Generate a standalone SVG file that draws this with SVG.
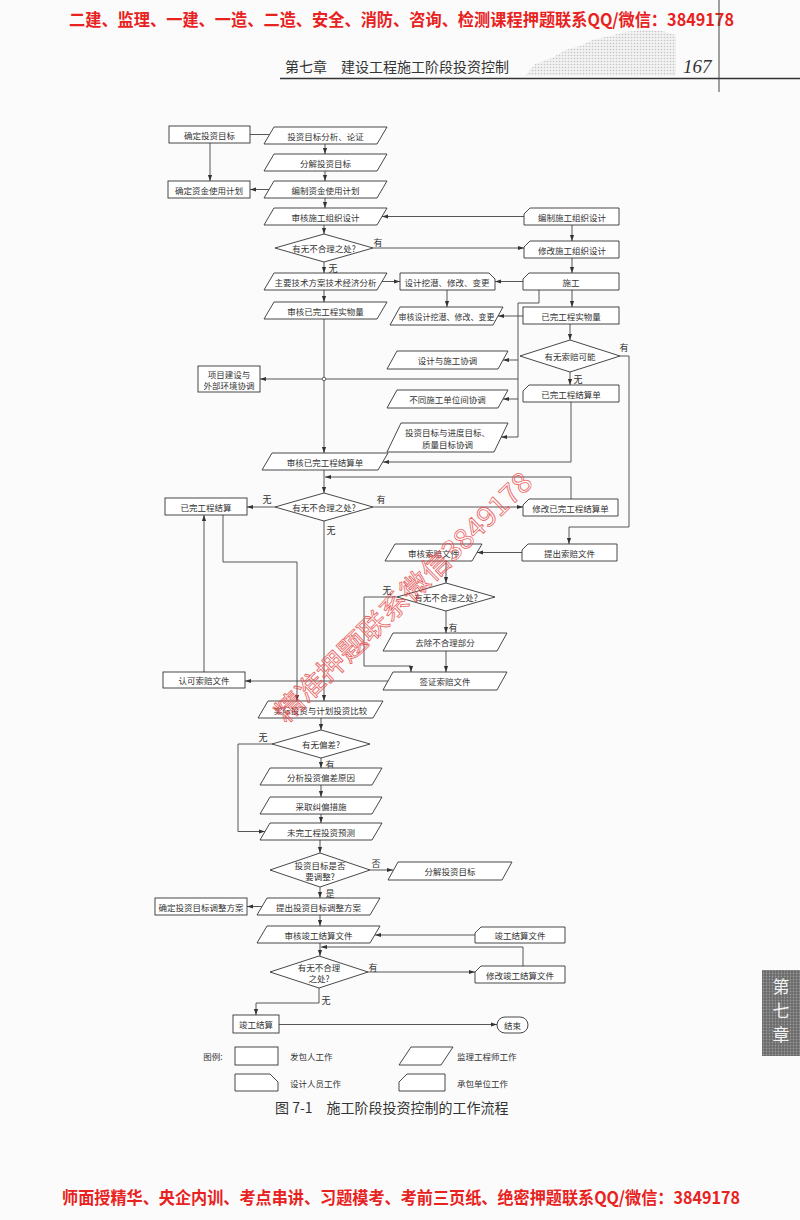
<svg xmlns="http://www.w3.org/2000/svg" width="800" height="1220" viewBox="0 0 800 1220">
<defs>
<marker id="a" viewBox="0 0 10 10" refX="10" refY="5" markerWidth="6" markerHeight="6" markerUnits="userSpaceOnUse" orient="auto"><path d="M0,1.5 L10,5 L0,8.5 z" fill="#333"/></marker>
<pattern id="dots" width="3" height="3" patternUnits="userSpaceOnUse"><rect width="3" height="3" fill="#ececec"/><circle cx="1.5" cy="1.5" r="0.8" fill="#a0a0a0"/></pattern>
<pattern id="dots2" width="3" height="3" patternUnits="userSpaceOnUse"><rect width="3" height="3" fill="#6a6a6a"/><circle cx="1.5" cy="1.5" r="0.9" fill="#9a9a9a"/></pattern>
</defs>
<style>
.s{fill:#fff;stroke:#333;stroke-width:0.9}
.t{font-family:"Noto Sans CJK SC",sans-serif;font-size:8.5px;fill:#333;text-anchor:middle;dominant-baseline:central}
.l{font-family:"Noto Sans CJK SC",sans-serif;font-size:9px;fill:#333;text-anchor:middle;dominant-baseline:central}
.c path{fill:none;stroke:#444;stroke-width:0.9}
.c .ar{marker-end:url(#a)}
.red{font-family:"Noto Sans CJK SC",sans-serif;font-weight:bold;font-size:17px;fill:#e8221e}
</style>
<rect width="800" height="1220" fill="#fbfbfb"/>

<g id="page-header">
<text class="red" x="69" y="26" textLength="665" lengthAdjust="spacingAndGlyphs">二建、监理、一建、一造、二造、安全、消防、咨询、检测课程押题联系QQ/微信：3849178</text>
<polygon points="525,76 535,64 552,58 565,50 580,46 592,40 610,36 625,32 645,30 662,31 676,35 676,76" fill="url(#dots)" opacity="0.6"/>
<text x="285" y="72" style="font-family:'Noto Sans CJK SC',sans-serif;font-size:14px;fill:#333">第七章　建设工程施工阶段投资控制</text>
<text x="683" y="73" style="font-family:'Liberation Serif',serif;font-style:italic;font-size:19px;fill:#333">167</text>
<line x1="280" y1="78.5" x2="800" y2="78.5" stroke="#333" stroke-width="1.4"/>
<line x1="719" y1="0" x2="719" y2="92" stroke="#444" stroke-width="1"/>
</g>

<g id="connectors" class="c">
<path d="M250,134.5 H269"/>
<path class="ar" d="M210,143 V181"/>
<path class="ar" d="M325,144 V154"/>
<path class="ar" d="M325,171 V181"/>
<path class="ar" d="M269,189.5 H250"/>
<path class="ar" d="M325,198 V208"/>
<path class="ar" d="M524,216.5 H382"/>
<path class="ar" d="M324,225 V234"/>
<path class="ar" d="M373,248 H524"/>
<path class="ar" d="M572,225 V241"/>
<path class="ar" d="M572,258 V273"/>
<path class="ar" d="M324,262 V273"/>
<path class="ar" d="M382,281.5 H400"/>
<path class="ar" d="M523,281.5 H495"/>
<path class="ar" d="M447,290 V307"/>
<path class="ar" d="M572,290 V307"/>
<path class="ar" d="M523,316 H498"/>
<path d="M539,290 V303 H518 V437"/>
<path class="ar" d="M518,360 H503"/>
<path class="ar" d="M518,399 H503"/>
<path class="ar" d="M518,437 H501"/>
<path class="ar" d="M518,379 H260"/>
<path class="ar" d="M324,290 V302"/>
<path class="ar" d="M324,319 V453"/>
<path class="ar" d="M570,324 V340"/>
<path class="ar" d="M570,372 V385"/>
<path class="ar" d="M620,356 H629 V527 H569 V544"/>
<path class="ar" d="M571,402 V462 H383"/>
<path class="ar" d="M571,499 V477 H325"/>
<path class="ar" d="M324,470 V493"/>
<path class="ar" d="M275,507 H247"/>
<path class="ar" d="M373,507 H523"/>
<path class="ar" d="M324,521 V701"/>
<path class="ar" d="M223,515 V562 H297 V701"/>
<path class="ar" d="M204,672 V515"/>
<path class="ar" d="M522,552.5 H477"/>
<path class="ar" d="M446,561 V583"/>
<path class="ar" d="M397,597 H364 V666 H411 V672"/>
<path class="ar" d="M446,611 V633"/>
<path class="ar" d="M446,651 V672"/>
<path class="ar" d="M388,681 H245"/>
<path class="ar" d="M321,718 V730"/>
<path class="ar" d="M272,744 H238 V831.5 H265"/>
<path class="ar" d="M321,758 V768"/>
<path class="ar" d="M321,785 V797"/>
<path class="ar" d="M321,814 V823"/>
<path class="ar" d="M320,840 V853"/>
<path class="ar" d="M370,870 H393"/>
<path class="ar" d="M320,887 V898"/>
<path class="ar" d="M262,906.5 H247"/>
<path class="ar" d="M320,915 V926"/>
<path class="ar" d="M475,935 H375"/>
<path class="ar" d="M320,943 V956"/>
<path class="ar" d="M368,972 H475"/>
<path class="ar" d="M523,966 V947 H321"/>
<path class="ar" d="M319,988 V1003 H256 V1015"/>
<path class="ar" d="M279,1024.5 H497"/>
<circle cx="324" cy="379" r="1.8" fill="#fff" stroke="#444" stroke-width="0.8"/>
<text class="l" x="378" y="242">有</text>
<text class="l" x="333" y="268">无</text>
<text class="l" x="624" y="347">有</text>
<text class="l" x="578" y="379">无</text>
<text class="l" x="267" y="499">无</text>
<text class="l" x="381" y="499">有</text>
<text class="l" x="331" y="530">无</text>
<text class="l" x="387" y="590">无</text>
<text class="l" x="453" y="627">有</text>
<text class="l" x="263" y="737">无</text>
<text class="l" x="330" y="764">有</text>
<text class="l" x="376" y="863">否</text>
<text class="l" x="330" y="893">是</text>
<text class="l" x="373" y="967">有</text>
<text class="l" x="326" y="1000">无</text>
</g>

<g id="n-r1"><rect class="s" x="169" y="126" width="81" height="17"/><text class="t" x="209.5" y="134.5">确定投资目标</text></g>
<g id="n-p1"><polygon class="s" points="274,127 387,127 377,144 264,144"/><text class="t" x="325.5" y="135.5">投资目标分析、论证</text></g>
<g id="n-p2"><polygon class="s" points="274,154 387,154 377,171 264,171"/><text class="t" x="325.5" y="162.5">分解投资目标</text></g>
<g id="n-r2"><rect class="s" x="168" y="181" width="82" height="17"/><text class="t" x="209" y="189.5">确定资金使用计划</text></g>
<g id="n-p3"><polygon class="s" points="274,181 387,181 377,198 264,198"/><text class="t" x="325.5" y="189.5">编制资金使用计划</text></g>
<g id="n-p4"><polygon class="s" points="274,208 387,208 377,225 264,225"/><text class="t" x="325.5" y="216.5">审核施工组织设计</text></g>
<g id="n-c1"><polygon class="s" points="530,208 619,208 619,225 524,225 524,214"/><text class="t" x="572" y="216.5">编制施工组织设计</text></g>
<g id="n-d1"><polygon class="s" points="275,248 324,234 373,248 324,262"/><text class="t" x="324" y="248">有无不合理之处?</text></g>
<g id="n-c2"><polygon class="s" points="530,241 619,241 619,258 524,258 524,247"/><text class="t" x="572" y="249.5">修改施工组织设计</text></g>
<g id="n-p5"><polygon class="s" points="274,273 387,273 377,290 264,290"/><text class="t" x="325.5" y="281.5">主要技术方案技术经济分析</text></g>
<g id="n-ds1"><polygon class="s" points="400,273 489,273 495,279 495,290 400,290"/><text class="t" x="447" y="281.5">设计挖潜、修改、变更</text></g>
<g id="n-c3"><polygon class="s" points="529,273 619,273 619,290 523,290 523,279"/><text class="t" x="571" y="281.5">施工</text></g>
<g id="n-p6"><polygon class="s" points="274,302 387,302 377,319 264,319"/><text class="t" x="325.5" y="310.5">审核已完工程实物量</text></g>
<g id="n-q1"><polygon class="s" points="400,307 503,307 493,325 390,325"/><text class="t" x="446.5" y="316" style="font-size:8px">审核设计挖潜、修改、变更</text></g>
<g id="n-r8"><rect class="s" x="523" y="307" width="96" height="17"/><text class="t" x="571" y="315.5">已完工程实物量</text></g>
<g id="n-dr1"><polygon class="s" points="520,356 570,340 620,356 570,372"/><text class="t" x="570" y="356">有无索赔可能</text></g>
<g id="n-q2"><polygon class="s" points="397,351 508,351 498,369 387,369"/><text class="t" x="447.5" y="360">设计与施工协调</text></g>
<g id="n-r3"><rect class="s" x="198" y="366" width="62" height="26"/><text class="t" x="229" y="373.5">项目建设与</text><text class="t" x="229" y="384.5">外部环境协调</text></g>
<g id="n-c4"><polygon class="s" points="529,385 619,385 619,402 523,402 523,391"/><text class="t" x="571" y="393.5">已完工程结算单</text></g>
<g id="n-q3"><polygon class="s" points="397,390 508,390 498,408 387,408"/><text class="t" x="447.5" y="399">不同施工单位间协调</text></g>
<g id="n-q4"><polygon class="s" points="401,423 508,423 494,452 387,452"/><text class="t" x="447.5" y="432">投资目标与进度目标、</text><text class="t" x="447.5" y="444">质量目标协调</text></g>
<g id="n-p7"><polygon class="s" points="272,453 388,453 378,470 262,470"/><text class="t" x="325" y="461.5">审核已完工程结算单</text></g>
<g id="n-r4"><rect class="s" x="165" y="498" width="82" height="17"/><text class="t" x="206" y="506.5">已完工程结算</text></g>
<g id="n-d2"><polygon class="s" points="275,507 324,493 373,507 324,521"/><text class="t" x="324" y="507">有无不合理之处?</text></g>
<g id="n-c5"><polygon class="s" points="529,499 618,499 618,516 523,516 523,505"/><text class="t" x="570.5" y="507.5">修改已完工程结算单</text></g>
<g id="n-q5"><polygon class="s" points="395,544 482,544 472,561 385,561"/><text class="t" x="433.5" y="552.5">审核索赔文件</text></g>
<g id="n-c6"><polygon class="s" points="528,544 617,544 617,561 522,561 522,550"/><text class="t" x="569.5" y="552.5">提出索赔文件</text></g>
<g id="n-dr2"><polygon class="s" points="397,597 446,583 495,597 446,611"/><text class="t" x="446" y="597">有无不合理之处?</text></g>
<g id="n-q6"><polygon class="s" points="393,633 507,633 497,651 383,651"/><text class="t" x="445" y="642">去除不合理部分</text></g>
<g id="n-r5"><rect class="s" x="163" y="672" width="82" height="16"/><text class="t" x="204" y="680">认可索赔文件</text></g>
<g id="n-q7"><polygon class="s" points="393,672 507,672 497,690 383,690"/><text class="t" x="445" y="681">签证索赔文件</text></g>
<g id="n-p8"><polygon class="s" points="268,701 383,701 373,718 258,718"/><text class="t" x="320.5" y="709.5">实际投资与计划投资比较</text></g>
<g id="n-d3"><polygon class="s" points="272,744 321,730 370,744 321,758"/><text class="t" x="321" y="744">有无偏差?</text></g>
<g id="n-p9"><polygon class="s" points="270,768 382,768 372,785 260,785"/><text class="t" x="321" y="776.5">分析投资偏差原因</text></g>
<g id="n-p10"><polygon class="s" points="270,797 382,797 372,814 260,814"/><text class="t" x="321" y="805.5">采取纠偏措施</text></g>
<g id="n-p11"><polygon class="s" points="270,823 382,823 372,840 260,840"/><text class="t" x="321" y="831.5">未完工程投资预测</text></g>
<g id="n-d4"><polygon class="s" points="270,870 320,853 370,870 320,887"/><text class="t" x="320" y="865">投资目标是否</text><text class="t" x="320" y="876">要调整?</text></g>
<g id="n-q8"><polygon class="s" points="398,862 512,862 502,880 388,880"/><text class="t" x="450" y="871">分解投资目标</text></g>
<g id="n-r6"><rect class="s" x="155" y="898" width="92" height="17"/><text class="t" x="201" y="906.5">确定投资目标调整方案</text></g>
<g id="n-p12"><polygon class="s" points="267,898 380,898 370,915 257,915"/><text class="t" x="318.5" y="906.5">提出投资目标调整方案</text></g>
<g id="n-p13"><polygon class="s" points="267,926 380,926 370,943 257,943"/><text class="t" x="318.5" y="934.5">审核竣工结算文件</text></g>
<g id="n-c7"><polygon class="s" points="481,927 565,927 565,943 475,943 475,933"/><text class="t" x="520" y="935">竣工结算文件</text></g>
<g id="n-d5"><polygon class="s" points="270,972 319,956 368,972 319,988"/><text class="t" x="319" y="966.5">有无不合理</text><text class="t" x="319" y="977.5">之处?</text></g>
<g id="n-c8"><polygon class="s" points="481,966 565,966 565,983 475,983 475,972"/><text class="t" x="520" y="974.5">修改竣工结算文件</text></g>
<g id="n-r7"><rect class="s" x="233" y="1015" width="46" height="18"/><text class="t" x="256" y="1024">竣工结算</text></g>
<g id="n-end"><rect class="s" x="497" y="1017" width="31" height="16" rx="8"/><text class="t" x="512.5" y="1025">结束</text></g>

<g id="legend">
<text class="t" x="213" y="1056">图例:</text>
<rect class="s" x="235" y="1047" width="43" height="18"/>
<text class="t" x="290" y="1056" style="text-anchor:start">发包人工作</text>
<polygon class="s" points="411,1047 453,1047 441,1065 399,1065"/>
<text class="t" x="457" y="1056" style="text-anchor:start">监理工程师工作</text>
<polygon class="s" points="235,1074 270,1074 278,1082 278,1091 235,1091"/>
<text class="t" x="290" y="1083" style="text-anchor:start">设计人员工作</text>
<polygon class="s" points="407,1074 445,1074 445,1091 399,1091 399,1082"/>
<text class="t" x="457" y="1083" style="text-anchor:start">承包单位工作</text>
<text x="275" y="1113" style="font-family:'Noto Sans CJK SC',sans-serif;font-size:14px;fill:#333">图 7-1　施工阶段投资控制的工作流程</text>
</g>

<g id="side-tab">
<rect x="762" y="970" width="38" height="86" fill="url(#dots2)"/>
<text x="781" y="993" style="font-family:'Noto Sans CJK SC',sans-serif;font-size:17px;fill:#f2f2f2;text-anchor:middle">第</text>
<text x="781" y="1017" style="font-family:'Noto Sans CJK SC',sans-serif;font-size:17px;fill:#f2f2f2;text-anchor:middle">七</text>
<text x="781" y="1041" style="font-family:'Noto Sans CJK SC',sans-serif;font-size:17px;fill:#f2f2f2;text-anchor:middle">章</text>
</g>

<g id="watermark">
<text transform="translate(286,724) rotate(-44)" textLength="345" lengthAdjust="spacingAndGlyphs" style="font-family:'Noto Sans CJK SC',sans-serif;font-size:27px;fill:none;stroke:#e84a4a;stroke-width:0.8;opacity:0.85">精准押题联系微信3849178</text>
</g>

<g id="footer">
<text class="red" x="62" y="1204" textLength="678" lengthAdjust="spacingAndGlyphs">师面授精华、央企内训、考点串讲、习题模考、考前三页纸、绝密押题联系QQ/微信：3849178</text>
</g>
</svg>
